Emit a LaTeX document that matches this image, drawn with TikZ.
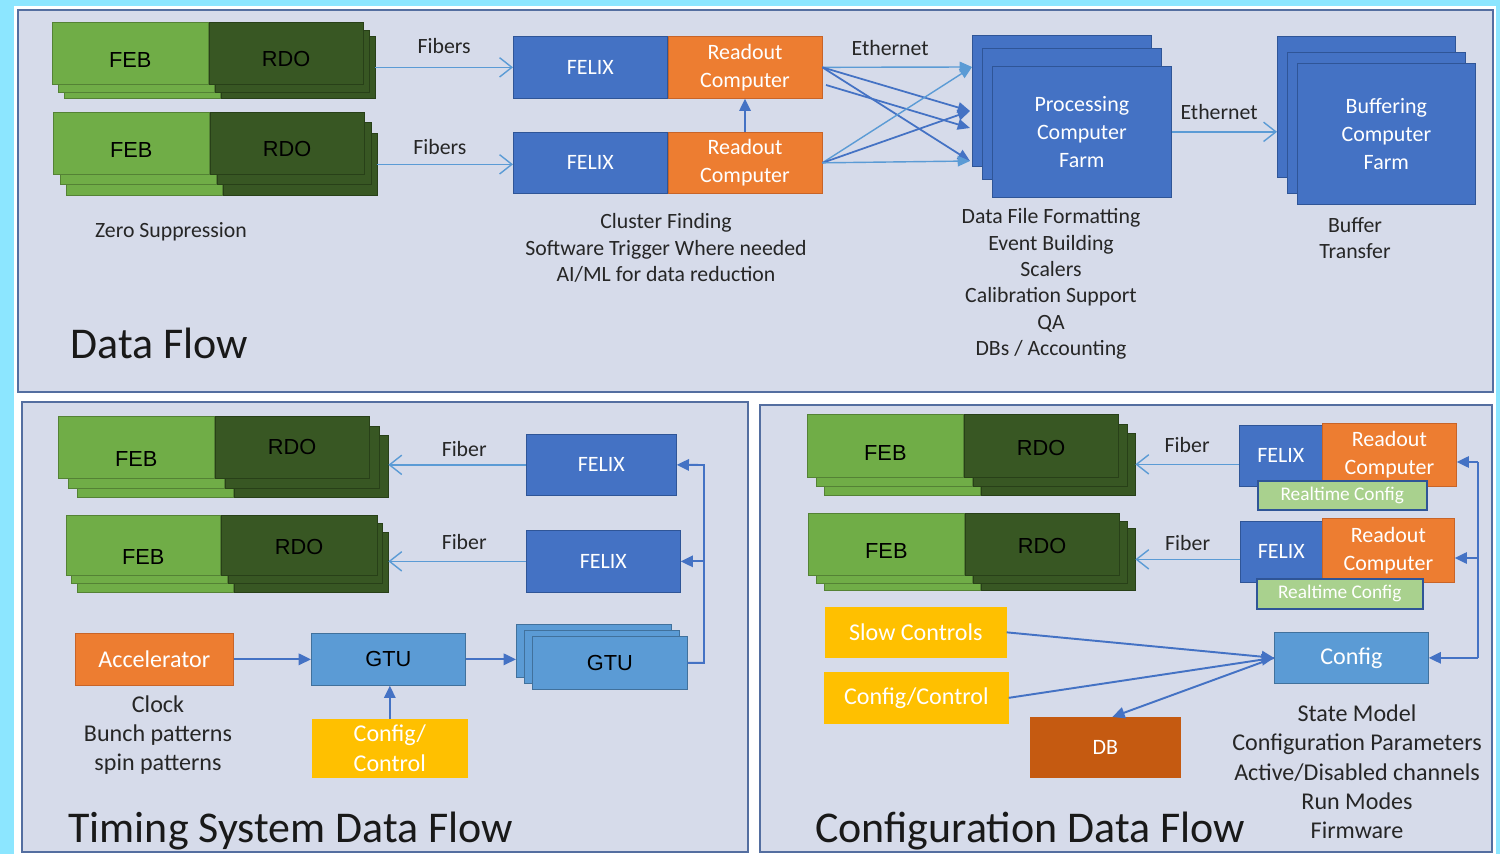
\documentclass[tikz,border=0pt]{standalone}
\usepackage{fontspec}
\setmainfont{Carlito}
\newfontfamily\arialfont{Liberation Sans}
\usetikzlibrary{arrows.meta,positioning}

\definecolor{outercyan}{RGB}{140,230,255}
\definecolor{panelbg}{RGB}{214,219,234}
\definecolor{panelline}{RGB}{84,110,160}
\definecolor{febgreen}{RGB}{112,173,71}
\definecolor{febline}{RGB}{84,130,53}
\definecolor{rdogreen}{RGB}{56,87,35}
\definecolor{rdoline}{RGB}{40,64,24}
\definecolor{felixblue}{RGB}{68,114,196}
\definecolor{blueline}{RGB}{47,85,151}
\definecolor{rcorange}{RGB}{237,125,49}
\definecolor{orangeline}{RGB}{200,100,40}
\definecolor{gtublue}{RGB}{91,155,213}
\definecolor{gtuline}{RGB}{65,113,156}
\definecolor{ctrlyellow}{RGB}{255,192,0}
\definecolor{dborange}{RGB}{197,90,17}
\definecolor{rtgreen}{RGB}{169,209,142}
\definecolor{lightarrow}{RGB}{91,155,213}
\definecolor{darkarrow}{RGB}{68,114,196}
\definecolor{lblgray}{RGB}{38,38,38}

\newcommand\smalltxt{\fontsize{12.4}{15}\selectfont}
\newcommand\midtxt{\fontsize{13.7}{16.7}\selectfont}
\newcommand\boxtxt{\fontsize{12.5}{15.9}\selectfont}
\newcommand\titletxt{\fontsize{25}{29}\selectfont}
\newcommand\febtxt{\arialfont\fontsize{12.4}{15}\selectfont}
\newcommand\rttxt{\fontsize{11}{13}\selectfont}

\begin{document}
\begin{tikzpicture}[x=0.02cm, y=-0.02cm]
    \tikzstyle{panel} = [draw=panelline, fill=panelbg, line width=1.2pt]
    \tikzstyle{febpart} = [rectangle, draw=febline, fill=febgreen, anchor=north west, inner sep=0pt,
                                      minimum width=3.12cm, minimum height=1.24cm, font=\febtxt]
    \tikzstyle{rdopart} = [rectangle, draw=rdoline, fill=rdogreen, anchor=north west, inner sep=0pt,
                                      minimum width=3.08cm, minimum height=1.24cm, font=\febtxt]
    \tikzstyle{felixbox} = [rectangle, draw=blueline, fill=felixblue, anchor=north west, inner sep=0pt,
                                      minimum width=3.08cm, minimum height=1.24cm, text=white, font=\boxtxt]
    \tikzstyle{rcbox} = [rectangle, draw=orangeline, fill=rcorange, anchor=north west, inner sep=0pt,
                                      minimum width=3.08cm, minimum height=1.24cm, text=white, font=\boxtxt, align=center]
    \tikzstyle{farmbox} = [felixbox, minimum width=3.58cm, minimum height=2.62cm, align=center]
    \tikzstyle{gtubox} = [rectangle, draw=gtuline, fill=gtublue, anchor=north west, inner sep=0pt,
                                      minimum width=3.08cm, minimum height=1.04cm, font=\febtxt]
    \tikzstyle{yellowbox} = [rectangle, draw=ctrlyellow, fill=ctrlyellow, anchor=north west, inner sep=0pt,
                                      text=white, font=\midtxt, align=center]
    \tikzstyle{rtbox} = [rectangle, draw=blueline, fill=rtgreen, anchor=north west, inner sep=0pt,
                                      minimum height=0.58cm, text=white, font=\rttxt, line width=0.9pt]
    \tikzstyle{lbl} = [text=lblgray, font=\smalltxt]
    \tikzstyle{midlbl} = [text=lblgray, font=\midtxt, align=center]
    \tikzstyle{title} = [text=black!90, font=\titletxt, anchor=base west, inner sep=0pt]
    \tikzstyle{fiberarrow} = [-{Straight Barb[length=7pt, width=11pt]}, draw=lightarrow, line width=0.8pt]
    \tikzstyle{ctrlarrow} = [-{Triangle[length=7pt, width=6.5pt]}, draw=darkarrow, line width=1.1pt]
    \tikzstyle{ethlight} = [-{Triangle[length=7pt, width=6pt]}, draw=lightarrow, line width=0.8pt]
    \tikzstyle{ethdark} = [-{Triangle[length=7pt, width=6pt]}, draw=darkarrow, line width=1pt]

  \useasboundingbox (0,0) rectangle (1500,854);
  \fill[outercyan] (0,0) rectangle (1500,854);
  \fill[white] (14,6) rectangle (1496,854);

  % ---------------- Data Flow ----------------
  \draw[panel] (18,10) rectangle (1493,392);
  \foreach \i/\dx/\dy in {3/12/14, 2/6/8} {
    \node[febpart] (feba-\i) at (52+\dx,22+\dy) {};
    \node[rdopart] (rdoa-\i) at (feba-\i.north east) {};
  }
  \node[febpart, text height=15.6pt] (feba) at (52,22) {FEB};
  \node[rdopart, text height=15.6pt] (rdoa) at (feba.north east) {RDO};
  \foreach \i/\dx/\dy in {3/13/21, 2/7/10} {
    \node[febpart] (febb-\i) at (53+\dx,112+\dy) {};
    \node[rdopart] (rdob-\i) at (febb-\i.north east) {};
  }
  \node[febpart, text height=15.6pt] (febb) at (53,112) {FEB};
  \node[rdopart, text height=15.6pt] (rdob) at (febb.north east) {RDO};

  \node[felixbox] (felix1) at (513,36) {FELIX};
  \node[rcbox] (rc1) at (felix1.north east) {Readout\\Computer};
  \node[felixbox, minimum height=1.22cm] (felix2) at (513,132) {FELIX};
  \node[rcbox, minimum height=1.22cm] (rc2) at (felix2.north east) {Readout\\Computer};

  \node[farmbox] (proc3) at (972,35) {};
  \node[farmbox] (proc2) at (982,48) {};
  \node[farmbox] (proc) at (992,66) {Processing\\Computer\\Farm};
  \node[farmbox, minimum width=3.56cm, minimum height=2.82cm] (buf3) at (1277,36) {};
  \node[farmbox, minimum width=3.56cm, minimum height=2.82cm] (buf2) at (1287,52) {};
  \node[farmbox, minimum width=3.56cm, minimum height=2.82cm] (buf) at (1297,63) {Buffering\\Computer\\Farm};

  \coordinate (in1) at (972,67);
  \coordinate (in2) at (970,111);
  \coordinate (in3) at (970,128);
  \coordinate (in4) at (970,161);
  \coordinate (out3) at (826,85);

  \draw[fiberarrow] (rdoa-3.east) -- node[lbl, above, yshift=4pt] (fib1) {Fibers} (felix1.west);
  \draw[fiberarrow] (rdob-3.east) -- node[lbl, above, yshift=2pt, xshift=-3pt] (fib2) {Fibers} (rdob-3.east -| felix2.west);
  \draw[ctrlarrow] (rc2.north) -- (rc1.south);
  \draw[ethlight] (rc1.east) -- node[lbl, above, yshift=3pt, xshift=-4pt] (eth1) {Ethernet} (in1);
  \draw[ethdark] (rc1.east) -- (in2);
  \draw[ethdark] (rc1.east) -- (in4);
  \draw[ethdark] (out3) -- (in3);
  \draw[ethlight] (rc2.east) -- (in1);
  \draw[ethdark] (rc2.east) -- (in2);
  \draw[ethlight] (rc2.east) -- (in4);
  \draw[fiberarrow] (proc.east) -- node[lbl, above, yshift=3pt, xshift=-3pt] (eth2) {Ethernet} (buf3.west |- proc.east);

  \node[lbl] (zs) at (171,232) {Zero Suppression};
  \node[lbl, align=center] (clus) at (666,248) {Cluster Finding\\Software Trigger Where needed\\AI/ML for data reduction};
  \node[lbl, align=center] (procnote) at (1051,284) {Data File Formatting\\Event Building\\Scalers\\Calibration Support\\QA\\DBs / Accounting};
  \node[lbl, align=center] (bufnote) at (1355,238) {Buffer\\Transfer};
  \node[title] (dftitle) at (70,359) {Data Flow};

  % ---------------- Timing System Data Flow ----------------
  \draw[panel] (22,402) rectangle (748,852);
  \foreach \i/\dx/\dy in {3/19/19, 2/10/10} {
    \node[febpart] (febc-\i) at (58+\dx,416+\dy) {};
    \node[rdopart] (rdoc-\i) at (febc-\i.north east) {};
  }
  \node[febpart, text height=21.9pt] (febc) at (58,416) {FEB};
  \node[rdopart] (rdoc) at (febc.north east) {RDO};
  \foreach \i/\dx/\dy in {3/11/17, 2/5/8} {
    \node[febpart, minimum height=1.2cm] (febd-\i) at (66+\dx,515+\dy) {};
    \node[rdopart, minimum height=1.2cm] (rdod-\i) at (febd-\i.north east) {};
  }
  \node[febpart, minimum height=1.2cm, minimum width=3.08cm, text height=21.3pt] (febd) at (66,515) {FEB};
  \node[rdopart, minimum height=1.2cm, minimum width=3.12cm, text height=11.1pt] (rdod) at (febd.north east) {RDO};

  \node[felixbox, minimum width=3cm, minimum height=1.22cm] (tfelix1) at (526,434) {FELIX};
  \node[felixbox] (tfelix2) at (526,530) {FELIX};
  \draw[fiberarrow] (tfelix1.west) -- node[lbl, above, yshift=1pt, xshift=4pt] (tfib1) {Fiber} (tfelix1.west -| rdoc-3.east);
  \draw[fiberarrow] (tfelix2.west) -- node[lbl, above, yshift=3pt, xshift=4pt] (tfib2) {Fiber} (tfelix2.west -| rdod-3.east);

  \node[rectangle, draw=orangeline, fill=rcorange, anchor=north west, inner sep=0pt, minimum width=3.16cm,
        minimum height=1.04cm, text=white, font=\midtxt] (accel) at (75,633) {Accelerator};
  \node[gtubox] (gtu) at (311,633) {GTU};
  \node[gtubox, minimum width=3.1cm, minimum height=1.06cm] (gtu3) at (516,624) {};
  \node[gtubox, minimum width=3.1cm, minimum height=1.06cm] (gtu2) at (524,630) {};
  \node[gtubox, minimum width=3.1cm, minimum height=1.06cm] (gtu1) at (532,636) {GTU};
  \node[yellowbox, minimum width=3.1cm, minimum height=1.16cm] (tcfg) at (312,719) {Config/\\Control};

  \coordinate (tbus) at (704,465);
  \draw[ctrlarrow] (accel.east) -- (gtu.west);
  \draw[ctrlarrow] (gtu.east) -- (gtu3.west |- gtu.east);
  \draw[ctrlarrow] (tcfg.north) -- (tcfg.north |- gtu.south);
  \draw[ctrlarrow] (gtu1.east) -| (tbus) -- (tfelix1.east);
  \draw[ctrlarrow] (tbus |- tfelix2.east) -- (tfelix2.east);

  \node[midlbl] (clk) at (158,735) {Clock\\Bunch patterns\\spin patterns};
  \node[title] (tstitle) at (68,842) {Timing System Data Flow};

  % ---------------- Configuration Data Flow ----------------
  \draw[panel] (760,405) rectangle (1492,852);
  \foreach \i/\dx/\dy in {3/17/19, 2/9/10} {
    \node[febpart] (febe-\i) at (807+\dx,414+\dy) {};
    \node[rdopart] (rdoe-\i) at (febe-\i.north east) {};
  }
  \node[febpart, minimum height=1.26cm, text height=16.3pt] (febe) at (807,414) {FEB};
  \node[rdopart, minimum height=1.26cm, text height=10.6pt] (rdoe) at (febe.north east) {RDO};
  \foreach \i/\dx/\dy in {3/16/15, 2/8/8} {
    \node[febpart] (febf-\i) at (808+\dx,513+\dy) {};
    \node[rdopart] (rdof-\i) at (febf-\i.north east) {};
  }
  \node[febpart, text height=15.7pt] (febf) at (808,513) {FEB};
  \node[rdopart, text height=11.1pt] (rdof) at (febf.north east) {RDO};

  \node[felixbox, minimum width=1.66cm, minimum height=1.22cm] (cfelix1) at (1239,425) {FELIX};
  \node[rcbox, minimum width=2.68cm, minimum height=1.26cm] (crc1) at (1322,423) {Readout\\Computer};
  \node[rtbox, minimum width=3.38cm] (rt1) at (1257,480) {Realtime Config};
  \node[felixbox, minimum width=1.64cm, minimum height=1.22cm] (cfelix2) at (1240,521) {FELIX};
  \node[rcbox, minimum width=2.64cm, minimum height=1.28cm] (crc2) at (1322,518) {Readout\\Computer};
  \node[rtbox, minimum width=3.32cm, minimum height=0.6cm] (rt2) at (1256,578) {Realtime Config};

  \draw[fiberarrow] (cfelix1.west |- rdoe-3.east) -- node[lbl, above, yshift=3pt] (cfib1) {Fiber} (rdoe-3.east);
  \draw[fiberarrow] (cfelix2.west |- rdof-3.east) -- node[lbl, above, yshift=1pt] (cfib2) {Fiber} (rdof-3.east);

  \node[yellowbox, minimum width=3.62cm, minimum height=1cm] (slow) at (825,607) {Slow Controls};
  \node[yellowbox, minimum width=3.68cm, minimum height=1.02cm] (cc) at (824,672) {Config/Control};
  \node[rectangle, draw=gtuline, fill=gtublue, anchor=north west, inner sep=0pt, minimum width=3.08cm,
        minimum height=1.02cm, text=white, font=\midtxt] (config) at (1274,632) {Config};
  \node[rectangle, draw=dborange, fill=dborange, anchor=north west, inner sep=0pt, minimum width=3cm,
        minimum height=1.2cm, text=white, font=\boxtxt] (db) at (1030,717) {DB};

  \draw[ctrlarrow] (slow.east) -- (config.west);
  \draw[ctrlarrow] (cc.east) -- (config.west);
  \draw[ctrlarrow] (config.west) -- ([xshift=4pt]db.north);

  \coordinate (cbus1) at (1478,462);
  \coordinate (cbus2) at (1478,558);
  \draw[draw=darkarrow, line width=1.1pt] (cbus1) -- (cbus1 |- config.east);
  \draw[ctrlarrow] (cbus1) -- (cbus1 -| crc1.east);
  \draw[ctrlarrow] (cbus2) -- (cbus2 -| crc2.east);
  \draw[ctrlarrow] (cbus1 |- config.east) -- (config.east);

  \node[midlbl] (statenote) at (1357,772) {State Model\\Configuration Parameters\\Active/Disabled channels\\Run Modes\\Firmware};
  \node[title] (cftitle) at (815,842) {Configuration Data Flow};
\end{tikzpicture}
\end{document}
